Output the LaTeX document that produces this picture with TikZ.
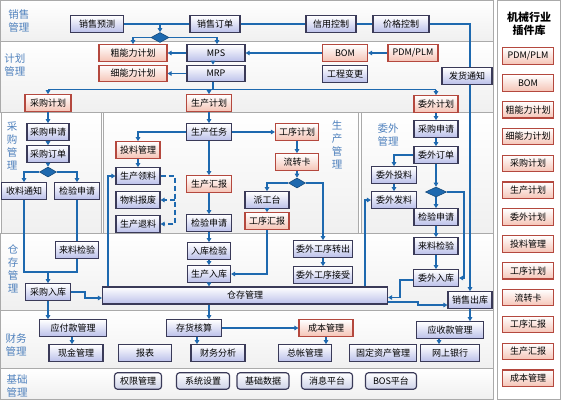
\documentclass[tikz,border=0pt]{standalone}
\usepackage{fontspec}
\setmainfont{Noto Sans CJK SC}
\usetikzlibrary{arrows.meta,shapes.geometric}
\definecolor{lnc}{RGB}{30,105,175}
\definecolor{bd}{RGB}{58,58,88}
\definecolor{bfill}{RGB}{188,193,234}
\definecolor{rd}{RGB}{180,72,62}
\definecolor{rfill}{RGB}{245,196,182}
\definecolor{lab}{RGB}{79,129,189}
\definecolor{sep}{RGB}{170,170,170}
\begin{document}
\begin{tikzpicture}[x=1pt,y=-1pt,
 bx/.style={draw=bd, line width=1.15pt, top color=white, bottom color=bfill, minimum height=16.5pt, inner sep=0pt, font=\fontsize{9}{10}\selectfont, text=black},
 rx/.style={bx, draw=rd, bottom color=rfill},
 gx/.style={bx, rounded corners=3pt, bottom color={rgb,255:red,205;green,210;blue,232}},
 mw/.style={minimum width=#1pt},
 ln/.style={draw=lnc, line width=1.4pt},
 ar/.style={ln, -{Triangle[length=4pt,width=4.5pt]}},
 dm/.style={diamond, fill=lnc, draw=lnc!70!black, line width=0.6pt, inner sep=0pt, minimum width=#1pt, minimum height=10pt},
 lbl/.style={text=lab, font=\fontsize{10.5}{13}\selectfont, align=center},
 vlbl/.style={text=lab, font=\fontsize{10.5}{12.8}\selectfont, align=center},
 pan/.style={draw=sep, line width=1pt, top color=white, bottom color=gray!12},
]
\useasboundingbox (0,0) rectangle (561,400);
\fill[white] (0,0) rectangle (561,400);
% panels
\draw[pan] (0.5,0.5) rectangle (493,41);
\draw[pan] (0.5,41) rectangle (493,112);
\draw[pan] (1.5,112) rectangle (101,233);
\draw[pan] (103,112) rectangle (358,233);
\draw[pan] (361,112) rectangle (493,233);
\draw[pan] (0.5,233) rectangle (493,310);
\draw[pan] (0.5,310) rectangle (493,368);
\draw[pan] (0.5,368) rectangle (493,399.5);
\draw[draw=sep, line width=1pt, fill=white] (497,0.5) rectangle (560.5,399.5);

% band labels
\node[lbl] (L1) at (19,21) {销售\\管理};
\node[lbl] (L2) at (15,65) {计划\\管理};
\node[vlbl] (L3) at (12,146) {采\\购\\管\\理};
\node[vlbl] (L4) at (337,145) {生\\产\\管\\理};
\node[lbl] (L5) at (388,135) {委外\\管理};
\node[vlbl] (L6) at (13,269) {仓\\存\\管\\理};
\node[lbl] (L7) at (16,345) {财务\\管理};
\node[lbl] (L8) at (17,386) {基础\\管理};
\node[font=\bfseries\fontsize{11}{13.5}\selectfont, align=center] (tt) at (529,24) {机械行业\\插件库};

% sales
\node[bx,mw=53] (xsyc) at (97,24) {销售预测};
\node[bx,mw=50] (xsdd) at (215,24) {销售订单};
\node[bx,mw=50] (xykz) at (331,24) {信用控制};
\node[bx,mw=56] (jgkz) at (401,24) {价格控制};
\node[dm=18] (d1) at (160,37.5) {};

% plan
\node[rx,mw=68] (cnl) at (133,53) {粗能力计划};
\node[rx,mw=68] (xnl) at (133,73.5) {细能力计划};
\node[bx,mw=58] (mps) at (216,53) {MPS};
\node[bx,mw=58] (mrp) at (216,73.5) {MRP};
\node[rx,mw=45] (bom) at (345,53) {BOM};
\node[rx,mw=50] (pdm) at (413,53) {PDM/PLM};
\node[bx,mw=45] (gcbg) at (345,74) {工程变更};
\node[bx,mw=50] (fhtz) at (467,76) {发货通知};
\node[rx,mw=46] (cgjh) at (48,103) {采购计划};
\node[rx,mw=45] (scjh) at (209,103) {生产计划};
\node[rx,mw=44] (wwjh) at (436,104) {委外计划};

% purchasing
\node[bx,mw=42] (cgsq) at (48,132) {采购申请};
\node[bx,mw=42] (cgdd) at (48,154) {采购订单};
\node[dm=17] (d2) at (48,172) {};
\node[bx,mw=45] (sltz) at (24,191) {收料通知};
\node[bx,mw=45] (jysq1) at (77,191) {检验申请};
\node[bx,mw=43] (lljy1) at (77,250) {来料检验};
\node[bx,mw=45] (cgrk) at (48,292) {采购入库};

% production
\node[bx,mw=45] (scrw) at (209,132) {生产任务};
\node[rx,mw=44] (tlgl) at (138,150) {投料管理};
\node[bx,mw=44] (scll) at (138,176) {生产领料};
\node[bx,mw=44] (wlbf) at (138,200) {物料报废};
\node[bx,mw=44] (sctl) at (138,224) {生产退料};
\node[rx,mw=45] (schb) at (209,184) {生产汇报};
\node[bx,mw=45] (jysq2) at (209,223) {检验申请};
\node[bx,mw=43] (rkjy) at (209,251) {入库检验};
\node[bx,mw=43] (scrk) at (209,274) {生产入库};
\node[rx,mw=43] (gxjh) at (297,132) {工序计划};
\node[rx,mw=43] (lzk) at (297,162) {流转卡};
\node[dm=17] (d3) at (297,183) {};
\node[bx,mw=44] (pgt) at (267,200) {派工台};
\node[rx,mw=44] (gxhb) at (267,221) {工序汇报};
\node[bx,mw=59] (wwzc) at (323,249) {委外工序转出};
\node[bx,mw=59] (wwjs) at (323,275) {委外工序接受};

% outsourcing
\node[bx,mw=44] (wwsq) at (436,129) {采购申请};
\node[bx,mw=44] (wwdd) at (436,155) {委外订单};
\node[bx,mw=45] (wwtl) at (394,175) {委外投料};
\node[bx,mw=45] (wwfl) at (394,200) {委外发料};
\node[dm=21] (d4) at (436,192) {};
\node[bx,mw=44] (jysq3) at (436,217) {检验申请};
\node[bx,mw=44] (lljy3) at (436,246) {来料检验};
\node[bx,mw=45] (wwrk) at (436,278) {委外入库};
\node[bx,mw=44] (xsck) at (470,300) {销售出库};

% warehouse
\node[bx,mw=285,minimum height=17pt] (cc) at (245,295.5) {仓存管理};

% finance
\node[bx,mw=67] (yfk) at (73,328) {应付款管理};
\node[bx,mw=54] (xjgl) at (76,353) {现金管理};
\node[bx,mw=53] (bb) at (145,353) {报表};
\node[bx,mw=55] (chhs) at (194,328) {存货核算};
\node[bx,mw=54] (cwfx) at (218,353) {财务分析};
\node[rx,mw=54] (cbgl) at (326,328) {成本管理};
\node[bx,mw=53] (zzgl) at (305,353) {总帐管理};
\node[bx,mw=67] (gdzc) at (383,353) {固定资产管理};
\node[bx,mw=59] (wsyh) at (450,353) {网上银行};
\node[bx,mw=67] (ysk) at (450,330) {应收款管理};

% base
\node[gx,mw=47] (qxgl) at (138,381) {权限管理};
\node[gx,mw=53] (xtsz) at (203,381) {系统设置};
\node[gx,mw=52] (jcsj) at (263,381) {基础数据};
\node[gx,mw=51] (xxpt) at (327,381) {消息平台};
\node[gx,mw=51] (bos) at (391,381) {BOS平台};

% plugin library
\foreach \t [count=\i] in {PDM/PLM,BOM,粗能力计划,细能力计划,采购计划,生产计划,委外计划,投料管理,工序计划,流转卡,工序汇报,生产汇报,成本管理}
  \node[rx,mw=51] (p\i) at (528,{56+26.85*(\i-1)}) {\t};

% ---------- connectors ----------
\coordinate (c470) at (470,24);
\coordinate (j1) at (160,24);
\draw[ln] (xsyc.east) -- (xsdd.west);
\draw[ln] (xsdd.east) -- (xykz.west);
\draw[ln] (xykz.east) -- (jgkz.west);
\draw[ln] (jgkz.east) -- (c470) -- (c470 |- fhtz.north);
\draw[ar] (c470 |- fhtz.south) -- (c470 |- xsck.north);
\draw[ar] (j1) -- (d1.north);
\draw[ar] (d1.west) -| (cnl.north);
\draw[ar] (d1.east) -| ([xshift=1pt]mps.north);
\draw[ar] (mps.west) -- (cnl.east);
\draw[ar] (mrp.west) -- (xnl.east);
\draw[ar] ([xshift=-3pt]mps.south) -- ([xshift=-3pt]mrp.north);
\draw[ar] (pdm.west) -- (bom.east);
\draw[ar] (bom.west) -- (mps.east);
\coordinate (bus) at (213,89.5);
\coordinate (bL) at (48,89.5);
\coordinate (bR) at (436,89.5);
\draw[ln] (mrp.south -| bus) -- (bus);
\draw[ln] (bL) -- (bR);
\draw[ar] (bL) -- (cgjh.north);
\draw[ar] (bus -| scjh) -- (scjh.north);
\draw[ar] (bR) -- (wwjh.north);

% purchasing
\coordinate (j2) at (48,272);
\draw[ar] (cgjh.south) -- (cgsq.north);
\draw[ar] (cgsq.south) -- (cgdd.north);
\draw[ar] (cgdd.south) -- (d2.north);
\draw[ar] (d2.west) -| (sltz.north);
\draw[ar] (d2.east) -| (jysq1.north);
\draw[ln] (jysq1.south) -- (lljy1.north);
\draw[ln] (sltz.south) -- (sltz.south |- j2) -- (lljy1.south |- j2) -- (lljy1.south);
\draw[ar] (j2) -- (cgrk.north);
\draw[ar] (cgrk.east) -- ++(14,0) |- ([yshift=-2.5pt]cc.west);
\draw[ar] (cgrk.south) -- (cgrk.south |- yfk.north);

% production
\coordinate (dv) at (175,0);
\coordinate (c108) at (108,0);
\draw[ar] (scjh.south) -- (scrw.north);
\draw[ar] (scrw.west) -| (tlgl.north);
\draw[ar] (tlgl.south) -- (scll.north);
\draw[ar, dash pattern=on 5pt off 3pt] (scll.east) -| (dv |- sctl.east) -- (sctl.east);
\draw[ar, dash pattern=on 5pt off 3pt] (dv |- wlbf.east) -- (wlbf.east);
\draw[ar] (c108 |- cc.north) |- (scll.west);
\draw[ar] (scrw.east) -- (gxjh.west);
\draw[ar] (scrw.south) -- (schb.north);
\draw[ar] (schb.south) -- (jysq2.north);
\draw[ar] (jysq2.south) -- (rkjy.north);
\draw[ar] (rkjy.south) -- (scrk.north);
\draw[ar] (scrk.south) -- (scrk.south |- cc.north);
\draw[ar] (gxjh.south) -- (lzk.north);
\draw[ar] (lzk.south) -- (d3.north);
\draw[ar] (d3.west) -| (pgt.north);
\draw[ar] (d3.east) -| (wwzc.north);
\draw[ar] (pgt.south) -- (gxhb.north);
\draw[ar] (gxhb.south) |- (scrk.east);
\draw[ar] (wwzc.south) -- (wwjs.north);

% outsourcing
\coordinate (c464) at (464,0);
\coordinate (c400) at (400,297.5);
\coordinate (c365) at (365,0);
\coordinate (c418) at (418,302);
\draw[ar] (wwjh.south) -- (wwsq.north);
\draw[ar] (wwsq.south) -- (wwdd.north);
\draw[ar] (wwdd.west) -| (wwtl.north);
\draw[ar] (wwtl.south) -- (wwfl.north);
\draw[ar] (wwdd.south) -- (d4.north);
\draw[ar] (d4.south) -- (jysq3.north);
\draw[ar] (d4.east) -- (c464 |- d4.east) -- (c464 |- wwrk.east) -- (wwrk.east);
\draw[ar] (jysq3.south) -- (lljy3.north);
\draw[ar] (lljy3.south) -- (wwrk.north);
\draw[ar] ([yshift=-2pt]wwrk.west) -| (c400) -- (c400 -| cc.east);
\draw[ar] (c365 |- cc.north) |- (wwfl.west);
\draw[ar] (c418 -| cc.east) -- (c418) |- ([yshift=-5pt]xsck.west);
\draw[ar] (xsck.south) -- (xsck.south |- ysk.north);

% finance
\coordinate (c209) at (209,0);
\draw[ar] (c209 |- cc.south) -- (c209 |- chhs.north);
\draw[ar] ([xshift=-1pt]yfk.south) -- ([xshift=-1pt]yfk.south |- xjgl.north);
\draw[ar] ([xshift=3pt]chhs.south) -- ([xshift=3pt]chhs.south |- cwfx.north);
\draw[ar] (chhs.east) -- (cbgl.west);
\draw[ar] (cbgl.south) -- (cbgl.south |- zzgl.north);
\draw[ar] ([xshift=-11pt]ysk.south) -- ([xshift=-11pt]ysk.south |- wsyh.north);
\end{tikzpicture}
\end{document}
